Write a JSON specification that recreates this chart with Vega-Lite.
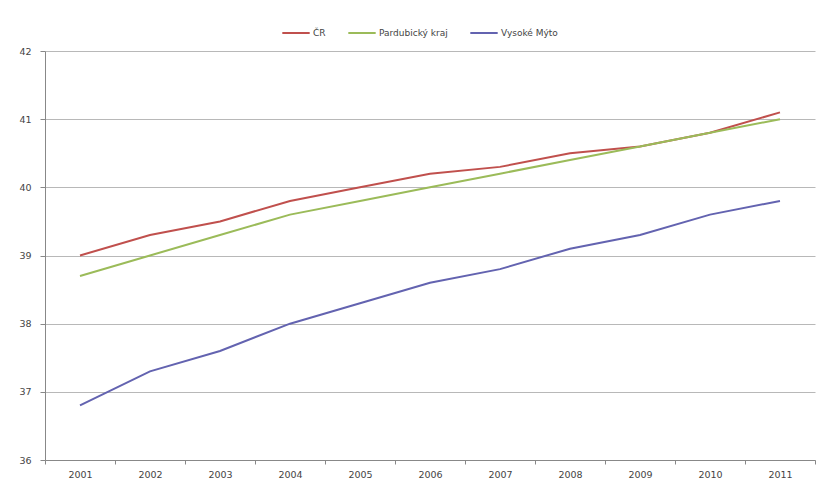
{
  "$schema": "https://vega.github.io/schema/vega-lite/v6.json",
  "autosize": {"type": "none"},
  "width": 770,
  "height": 409,
  "padding": {"left": 45, "top": 51, "right": 13, "bottom": 27},
  "background": "white",
  "data": {"values": [
    {"rok": "2001", "s": "ČR", "v": 39.0},
    {"rok": "2002", "s": "ČR", "v": 39.3},
    {"rok": "2003", "s": "ČR", "v": 39.5},
    {"rok": "2004", "s": "ČR", "v": 39.8},
    {"rok": "2005", "s": "ČR", "v": 40.0},
    {"rok": "2006", "s": "ČR", "v": 40.2},
    {"rok": "2007", "s": "ČR", "v": 40.3},
    {"rok": "2008", "s": "ČR", "v": 40.5},
    {"rok": "2009", "s": "ČR", "v": 40.6},
    {"rok": "2010", "s": "ČR", "v": 40.8},
    {"rok": "2011", "s": "ČR", "v": 41.1},
    {"rok": "2001", "s": "Pardubický kraj", "v": 38.7},
    {"rok": "2002", "s": "Pardubický kraj", "v": 39.0},
    {"rok": "2003", "s": "Pardubický kraj", "v": 39.3},
    {"rok": "2004", "s": "Pardubický kraj", "v": 39.6},
    {"rok": "2005", "s": "Pardubický kraj", "v": 39.8},
    {"rok": "2006", "s": "Pardubický kraj", "v": 40.0},
    {"rok": "2007", "s": "Pardubický kraj", "v": 40.2},
    {"rok": "2008", "s": "Pardubický kraj", "v": 40.4},
    {"rok": "2009", "s": "Pardubický kraj", "v": 40.6},
    {"rok": "2010", "s": "Pardubický kraj", "v": 40.8},
    {"rok": "2011", "s": "Pardubický kraj", "v": 41.0},
    {"rok": "2001", "s": "Vysoké Mýto", "v": 36.8},
    {"rok": "2002", "s": "Vysoké Mýto", "v": 37.3},
    {"rok": "2003", "s": "Vysoké Mýto", "v": 37.6},
    {"rok": "2004", "s": "Vysoké Mýto", "v": 38.0},
    {"rok": "2005", "s": "Vysoké Mýto", "v": 38.3},
    {"rok": "2006", "s": "Vysoké Mýto", "v": 38.6},
    {"rok": "2007", "s": "Vysoké Mýto", "v": 38.8},
    {"rok": "2008", "s": "Vysoké Mýto", "v": 39.1},
    {"rok": "2009", "s": "Vysoké Mýto", "v": 39.3},
    {"rok": "2010", "s": "Vysoké Mýto", "v": 39.6},
    {"rok": "2011", "s": "Vysoké Mýto", "v": 39.8}
  ]},
  "mark": {"type": "line", "strokeWidth": 2},
  "encoding": {
    "x": {
      "field": "rok", "type": "ordinal",
      "scale": {"type": "band", "paddingInner": 0, "paddingOuter": 0},
      "axis": {
        "title": null, "labelAngle": 0, "tickBand": "extent", "grid": false,
        "domainColor": "#888888", "tickColor": "#888888", "tickSize": 4,
        "labelFont": "DejaVu Sans", "labelFontSize": 9.5, "labelColor": "#444444", "labelPadding": 5
      }
    },
    "y": {
      "field": "v", "type": "quantitative",
      "scale": {"domain": [36, 42], "nice": false, "zero": false},
      "axis": {
        "title": null, "values": [36, 37, 38, 39, 40, 41, 42], "format": "d",
        "grid": true, "gridColor": "#B8B8B8", "gridWidth": 1,
        "domainColor": "#888888", "tickColor": "#888888", "tickSize": 5,
        "labelFont": "DejaVu Sans", "labelFontSize": 9.5, "labelColor": "#444444", "labelPadding": 9
      }
    },
    "color": {
      "field": "s", "type": "nominal",
      "scale": {"domain": ["ČR", "Pardubický kraj", "Vysoké Mýto"], "range": ["#C0504D", "#9BBB59", "#6363B0"]},
      "legend": {
        "title": null, "orient": "none", "direction": "horizontal", "legendX": 236, "legendY": -33,
        "symbolType": "stroke", "symbolSize": 750, "symbolStrokeWidth": 2,
        "labelFont": "DejaVu Sans", "labelFontSize": 9, "labelColor": "#444444", "columnPadding": 18, "labelOffset": 2
      }
    }
  },
  "config": {"view": {"stroke": null}}
}
